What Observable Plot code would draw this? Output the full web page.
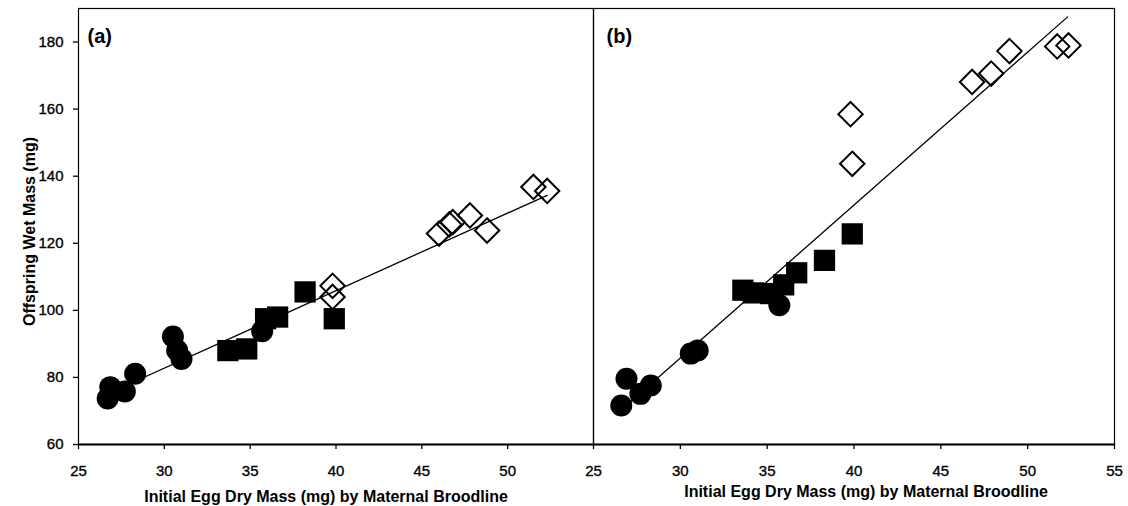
<!DOCTYPE html>
<html>
<head>
<meta charset="utf-8">
<script src="https://cdn.jsdelivr.net/npm/d3@7"></script>
<script src="https://cdn.jsdelivr.net/npm/@observablehq/plot@0.6"></script>
<style>
  body { margin: 0; background: #fff; }
  #chart { position: relative; width: 1128px; height: 506px; }
  #chart svg { position: absolute; left: 0; top: 0; overflow: visible; }
  #chart g[aria-label="x-axis tick label"],
  #chart g[aria-label="y-axis tick label"] { font-size: 15px; stroke: #000; stroke-width: 0.35px; }
</style>
</head>
<body>
<div id="chart"></div>
<script>
// ---- data ----
const yTicks = [60, 80, 100, 120, 140, 160, 180];
const xTicksA = [25, 30, 35, 40, 45, 50];
const xTicksB = [25, 30, 35, 40, 45, 50, 55];
const xTitle = "Initial Egg Dry Mass (mg) by Maternal Broodline";
const yTitle = "Offspring Wet Mass (mg)";

// Panel (a)
const circlesA_x = [26.7, 26.85, 27.7, 28.3, 30.5, 30.75, 31.0, 35.7];
const circlesA_y = [73.7, 77.1, 75.8, 81.1, 92.2, 88.0, 85.5, 93.8];
const squaresA_x = [33.7, 34.8, 35.9, 36.6, 38.2, 39.9];
const squaresA_y = [88.0, 88.5, 97.5, 98.0, 105.5, 97.5];
const diamondsA_x = [39.8, 39.8, 46.0, 46.6, 46.8, 47.8, 48.8, 51.5, 52.3];
const diamondsA_y = [107.3, 104.0, 122.9, 125.6, 126.3, 128.3, 123.8, 136.8, 135.6];
const fitA_x = [26.6, 52.3];
const fitA_y = [74.9, 134.3];

// Panel (b)
const circlesB_x = [26.6, 26.9, 27.7, 28.3, 30.6, 31.0, 35.7];
const circlesB_y = [71.6, 79.6, 75.1, 77.6, 87.1, 88.0, 101.5];
const squaresB_x = [33.6, 34.2, 35.2, 35.95, 36.7, 38.3, 39.9];
const squaresB_y = [106.0, 105.2, 105.0, 107.6, 111.2, 114.9, 122.8];
const diamondsB_x = [39.8, 39.9, 46.8, 47.9, 48.95, 51.7, 52.35];
const diamondsB_y = [158.5, 143.7, 168.1, 170.6, 177.3, 178.7, 179.0];
const fitB_x = [26.6, 52.3];
const fitB_y = [70.3, 187.5];

const zip = (xs, ys) => xs.map((x, i) => ({x, y: ys[i]}));
const FONT = '"Liberation Sans", Arial, sans-serif';

function panel(o) {
  return Plot.plot({
    width: 1128,
    height: 506,
    marginTop: 8,
    marginBottom: 62,
    marginLeft: o.marginLeft,
    marginRight: o.marginRight,
    style: { fontFamily: FONT, fontSize: "15px", color: "#000", background: "transparent", overflow: "visible" },
    x: { domain: [25, 55] },
    y: { domain: [60, 190], axis: o.showY ? undefined : null },
    marks: [
      Plot.frame({ stroke: "#000", strokeWidth: 1.2 }),
      Plot.ruleY([60], { stroke: "#000", strokeWidth: 2 }),
      Plot.axisX({ ticks: o.xTicks, tickSize: 5, tickPadding: 16, label: null, fontSize: 15, strokeWidth: 1.3 }),
      o.showY ? Plot.axisY({ ticks: yTicks, tickSize: 5, tickPadding: 10, label: null, fontSize: 15, strokeWidth: 1.3 }) : null,
      Plot.line(zip(o.fitX, o.fitY), { x: "x", y: "y", stroke: "#000", strokeWidth: 1.3 }),
      Plot.dot(zip(o.cx, o.cy), { x: "x", y: "y", symbol: "circle", fill: "#000", stroke: "none", r: 11 }),
      Plot.dot(zip(o.sx, o.sy), { x: "x", y: "y", symbol: "square", fill: "#000", stroke: "none", r: 12 }),
      Plot.dot(zip(o.dx, o.dy), { x: "x", y: "y", symbol: "diamond2", fill: "none", stroke: "#000", strokeWidth: 2, r: 11 }),
      Plot.text([xTitle], { text: d => d, frameAnchor: "bottom", textAnchor: "middle", lineAnchor: "middle", dx: o.titleDx, dy: o.titleDy, fontWeight: "bold", fontSize: 16 }),
      Plot.text([o.tag], { text: d => d, frameAnchor: "top-left", textAnchor: "start", lineAnchor: "middle", dx: o.tagDx, dy: 28, fontWeight: "bold", fontSize: 20 }),
      o.showY ? Plot.text([yTitle], { text: d => d, frameAnchor: "left", textAnchor: "middle", rotate: -90, lineAnchor: "middle", dx: -49, dy: 5, fontWeight: "bold", fontSize: 16 }) : null
    ]
  });
}

const chart = document.getElementById("chart");
chart.append(panel({
  marginLeft: 78, marginRight: 1128 - 593, showY: true, xTicks: xTicksA,
  fitX: fitA_x, fitY: fitA_y,
  cx: circlesA_x, cy: circlesA_y, sx: squaresA_x, sy: squaresA_y, dx: diamondsA_x, dy: diamondsA_y,
  titleDx: -10, titleDy: 52, tag: "(a)", tagDx: 9
}));
chart.append(panel({
  marginLeft: 593, marginRight: 14, showY: false, xTicks: xTicksB,
  fitX: fitB_x, fitY: fitB_y,
  cx: circlesB_x, cy: circlesB_y, sx: squaresB_x, sy: squaresB_y, dx: diamondsB_x, dy: diamondsB_y,
  titleDx: 12, titleDy: 47, tag: "(b)", tagDx: 13
}));
</script>
</body>
</html>
